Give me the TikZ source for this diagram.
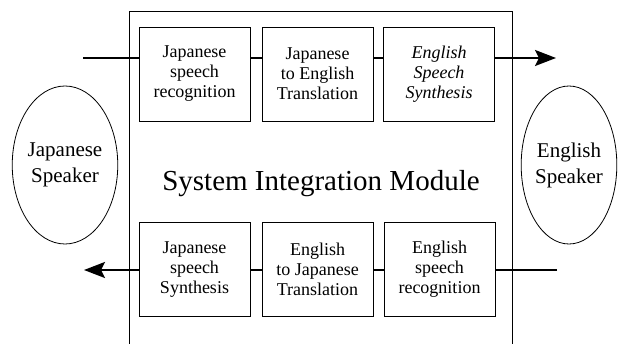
\documentclass[tikz,border=0pt]{standalone}
\usepackage{fontspec}
\setmainfont{Liberation Serif}
\usetikzlibrary{arrows.meta,shapes.geometric}
\begin{document}
\begin{tikzpicture}[x=1pt,y=-1pt,
  modbox/.style={draw,line width=0.9pt,minimum width=111pt,minimum height=94pt,inner sep=0pt,
    align=center,font=\fontsize{18}{20}\selectfont},
  speaker/.style={draw,ellipse,line width=0.8pt,minimum width=94pt,minimum height=158pt,inner sep=0pt,
    align=center,font=\fontsize{21}{26}\selectfont},
  flow/.style={line width=2.4pt},
  flowarrow/.style={line width=2.4pt,-{Stealth[length=21pt,width=16pt,inset=4pt]}}
]
\useasboundingbox (0,0) rectangle (621,344);
\draw[line width=0.9pt] (129,344) -- (129,11) -- (512,11) -- (512,344);
\node[modbox] (b1) at (194.5,74) {Japanese\\speech\\recognition};
\node[modbox] (b2) at (317.5,74) {Japanese\\to English\\Translation};
\node[modbox] (b3) at (439,74) {\itshape English\\\itshape Speech\\\itshape Synthesis};
\node[modbox] (b4) at (194.5,269.5) {Japanese\\speech\\Synthesis};
\node[modbox] (b5) at (317.5,269.5) {English\\to Japanese\\Translation};
\node[modbox] (b6) at (439.5,269.5) {English\\speech\\recognition};
\node[speaker] (js) at (65,165) {Japanese\\Speaker};
\node[speaker] (es) at (569,165) {English\\Speaker};
\node[font=\fontsize{29}{32}\selectfont] (sim) at (321,184) {System Integration Module};
\coordinate (tin) at (83,58);
\coordinate (tout) at (556,58);
\coordinate (bin) at (557,270);
\coordinate (bout) at (84,270);
\draw[flow] (tin) -- (tin -| b1.west);
\draw[flow] (tin -| b1.east) -- (tin -| b2.west);
\draw[flow] (tin -| b2.east) -- (tin -| b3.west);
\draw[flowarrow] (tin -| b3.east) -- (tout);
\draw[flow] (bin) -- (bin -| b6.east);
\draw[flow] (bin -| b6.west) -- (bin -| b5.east);
\draw[flow] (bin -| b5.west) -- (bin -| b4.east);
\draw[flowarrow] (bin -| b4.west) -- (bout);
\end{tikzpicture}
\end{document}
